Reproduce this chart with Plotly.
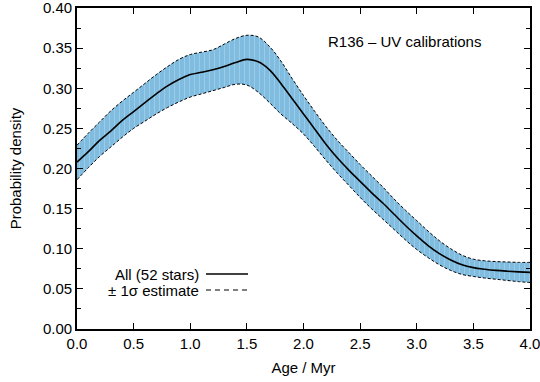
import plotly.graph_objects as go

# Data
age = [round(0.1 * i, 1) for i in range(41)]
pdf_all = [0.208, 0.221, 0.235, 0.247, 0.260, 0.271, 0.282, 0.293, 0.303, 0.311,
           0.317, 0.320, 0.323, 0.327, 0.332, 0.336, 0.333, 0.323, 0.306, 0.287,
           0.268, 0.249, 0.230, 0.213, 0.198, 0.184, 0.170, 0.157, 0.143, 0.129,
           0.116, 0.104, 0.094, 0.086, 0.080, 0.0765, 0.0745, 0.0730, 0.0720, 0.0712, 0.0705]
pdf_upper = [0.229, 0.244, 0.258, 0.272, 0.284, 0.295, 0.306, 0.317, 0.327, 0.336,
             0.342, 0.345, 0.348, 0.355, 0.362, 0.366, 0.364, 0.352, 0.334, 0.312,
             0.291, 0.271, 0.252, 0.235, 0.220, 0.205, 0.191, 0.177, 0.162, 0.148,
             0.135, 0.122, 0.110, 0.100, 0.092, 0.087, 0.085, 0.084, 0.0835, 0.083, 0.083]
pdf_lower = [0.186, 0.201, 0.215, 0.227, 0.239, 0.250, 0.259, 0.268, 0.276, 0.283,
             0.289, 0.293, 0.297, 0.301, 0.305, 0.304, 0.295, 0.282, 0.268, 0.256,
             0.243, 0.227, 0.210, 0.194, 0.179, 0.164, 0.150, 0.137, 0.124, 0.111,
             0.099, 0.089, 0.080, 0.073, 0.068, 0.0655, 0.0635, 0.062, 0.0605, 0.059, 0.058]

x_ticks = [0.0, 0.5, 1.0, 1.5, 2.0, 2.5, 3.0, 3.5, 4.0]
y_ticks = [0.00, 0.05, 0.10, 0.15, 0.20, 0.25, 0.30, 0.35, 0.40]

FILL = "#80bce0"
FONT = "Liberation Sans, Arial, sans-serif"
FS = 15

fig = go.Figure()
fig.add_trace(go.Scatter(x=age, y=pdf_lower, mode="lines",
                         line=dict(color="black", width=1, dash="3px,2px", shape="spline", smoothing=1.0),
                         showlegend=False, hoverinfo="skip"))
fig.add_trace(go.Scatter(x=age, y=pdf_upper, mode="lines", fill="tonexty", fillcolor=FILL,
                         fillpattern=dict(shape="|", bgcolor=FILL, fgcolor="rgba(205,232,246,0.9)", size=5, solidity=0.15),
                         line=dict(color="black", width=1, dash="3px,2px", shape="spline", smoothing=1.0),
                         showlegend=False, hoverinfo="skip"))
fig.add_trace(go.Scatter(x=age, y=pdf_all, mode="lines",
                         line=dict(color="black", width=1.6, shape="spline", smoothing=1.0),
                         showlegend=False))

axis_common = dict(showline=True, linecolor="black", linewidth=1.6, mirror="ticks", ticks="inside",
                   tickcolor="black", tickwidth=1.2, ticklen=6, showgrid=False, zeroline=False,
                   automargin=False, ticklabeloverflow="allow",
                   tickfont=dict(family=FONT, size=FS, color="black"))
fig.update_xaxes(range=[0, 4], tickvals=x_ticks, ticktext=[f"{v:.1f}" for v in x_ticks],
                 title=dict(text="Age / Myr", font=dict(family=FONT, size=FS, color="black"), standoff=12),
                 **axis_common)
fig.update_yaxes(range=[0, 0.40], tickvals=y_ticks, ticktext=[f"{v:.2f}" for v in y_ticks],
                 minor=dict(ticks="inside", ticklen=4, tickcolor="black", tickwidth=1.2, dtick=0.025, tick0=0, showgrid=False),
                 title=dict(text="Probability density", font=dict(family=FONT, size=FS, color="black"), standoff=18),
                 **axis_common)

# Legend drawn manually (text to the left of its line sample)
legend_rows = [("All (52 stars)", "solid", 1.6, 274), ("± 1σ estimate", "5px,4px", 1, 290)]
pw, ph, ml, mt = 453, 321, 77, 8
for label, dash, w, ypx in legend_rows:
    yp = 1 - (ypx - mt) / ph
    fig.add_annotation(x=(201 - ml) / pw, y=yp, xref="paper", yref="paper", text=label, showarrow=False,
                       xanchor="right", yanchor="middle", font=dict(family=FONT, size=FS, color="black"))
    fig.add_shape(type="line", xref="paper", yref="paper", x0=(206 - ml) / pw, x1=(248 - ml) / pw, y0=yp, y1=yp,
                  line=dict(color="black", width=w, dash=dash))

fig.add_annotation(x=(404 - ml) / pw, y=1 - (41 - mt) / ph, xref="paper", yref="paper", text="R136 – UV calibrations",
                   showarrow=False, xanchor="center", yanchor="middle", font=dict(family=FONT, size=FS, color="black"))

fig.update_layout(width=540, height=382, margin=dict(l=77, r=10, t=8, b=53),
                  paper_bgcolor="white", plot_bgcolor="white", showlegend=False,
                  font=dict(family=FONT, size=FS, color="black"))

fig.write_html("out.html")
